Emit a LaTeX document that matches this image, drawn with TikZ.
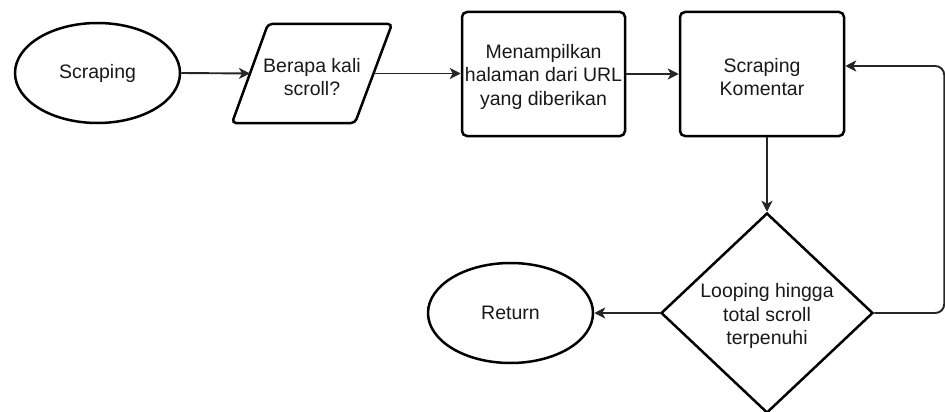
\documentclass[tikz,border=0pt]{standalone}
\usepackage{fontspec}
\setmainfont{Liberation Sans}
\usetikzlibrary{shapes.geometric,arrows.meta,calc}

\tikzset{
  shapeline/.style={draw=black, line width=2.5pt, fill=white},
  label/.style={font=\fontsize{19.5pt}{23.5pt}\selectfont, align=center, text=black!90},
  terminal/.style={shapeline, label, ellipse, minimum width=165pt, minimum height=100pt, inner sep=0pt},
  process/.style={shapeline, label, rectangle, rounded corners=5pt, inner sep=0pt},
  decision/.style={shapeline, label, diamond, aspect=1.06, minimum width=212pt, minimum height=200pt, inner sep=0pt},
  flow/.style={draw=black!85, line width=1.9pt, -{Stealth[length=11pt, width=11pt, inset=3pt]}},
}

\begin{document}
\begin{tikzpicture}[x=1pt, y=-1pt]
  \useasboundingbox (0,0) rectangle (945,412);

  % start terminal
  \node[terminal] (start) at (97.5,73) {Scraping};

  % input parallelogram drawn as a path, text node on top
  \coordinate (askTL) at (268,24);
  \coordinate (askTR) at (392,24);
  \coordinate (askBR) at (355,123);
  \coordinate (askBL) at (232,123);
  \coordinate (askL) at ($(askTL)!0.5!(askBL)$);
  \coordinate (askR) at ($(askTR)!0.5!(askBR)$);
  \draw[shapeline, rounded corners=4pt] (askTL) -- (askTR) -- (askBR) -- (askBL) -- cycle;
  \node[label] (ask) at (312,77) {Berapa kali\\scroll?};

  % process boxes, with their texts set slightly below centre
  \node[process, minimum width=163pt, minimum height=124pt] (show) at (543.5,74) {};
  \node[label] (showtext) at (543.5,76.5) {Menampilkan\\halaman dari URL\\yang diberikan};
  \node[process, minimum width=164pt, minimum height=124pt] (scrape) at (762,74) {};
  \node[label] (scrapetext) at (762,77) {Scraping\\Komentar};

  % decision
  \node[decision] (loop) at (767,313) {};
  \node[label] (looptext) at (767,316) {Looping hingga\\total scroll\\terpenuhi};

  % end terminal
  \node[terminal] (ret) at (510.5,313) {Return};

  % connectors
  \draw[flow] (start.east) -- (askL);
  \draw[flow] (askR) -- (askR -| show.west);
  \draw[flow] (show.east) -- (scrape.west);
  \draw[flow] (scrape.south -| loop.north) -- (loop.north);
  \draw[flow] (loop.west) -- (ret.east);
  \draw[flow, rounded corners=9pt] (loop.east) -- ++(70,0) |- ([yshift=8pt]scrape.east);
\end{tikzpicture}
\end{document}
